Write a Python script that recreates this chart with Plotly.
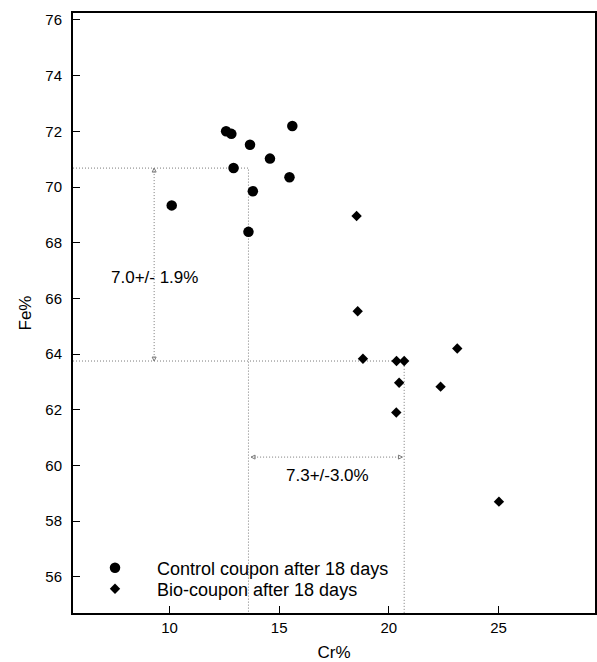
import plotly.graph_objects as go

# Control coupons (circles)
control_cr = [12.58, 12.82, 12.92, 13.67, 14.58, 15.60, 15.47, 13.80, 13.60, 10.10]
control_fe = [72.00, 71.91, 70.68, 71.52, 71.02, 72.19, 70.35, 69.85, 68.39, 69.34]

# Bio-coupons (diamonds)
bio_cr = [18.53, 18.58, 18.82, 20.35, 20.70, 20.47, 20.34, 22.36, 23.12, 25.02]
bio_fe = [68.96, 65.54, 63.83, 63.75, 63.75, 62.97, 61.90, 62.83, 64.20, 58.70]

# Mean reference values (control, bio)
mean_cr = [13.6, 20.7]
mean_fe = [70.68, 63.75]

# Difference-arrow positions
fe_arrow_cr = 9.3
cr_arrow_fe = 60.3
cr_arrow_span = [13.72, 20.62]

x_range = [5.6, 29.4]
y_range = [54.7, 76.25]

labels = ["Control coupon after 18 days", "Bio-coupon after 18 days"]
fe_diff_text = "7.0+/- 1.9%"
cr_diff_text = "7.3+/-3.0%"

FONT = "Liberation Sans, Arial, Helvetica, sans-serif"
GRAY = "#7a7a7a"
DOT = dict(color=GRAY, width=1, dash="1px,2px")

fig = go.Figure()

# dotted mean guide lines
fig.add_trace(go.Scatter(x=[x_range[0], mean_cr[0], mean_cr[0]],
                         y=[mean_fe[0], mean_fe[0], y_range[0]],
                         mode="lines", line=DOT, showlegend=False, hoverinfo="skip"))
fig.add_trace(go.Scatter(x=[x_range[0], mean_cr[1], mean_cr[1]],
                         y=[mean_fe[1], mean_fe[1], y_range[0]],
                         mode="lines", line=DOT, showlegend=False, hoverinfo="skip"))

# vertical double arrow (Fe difference)
fig.add_trace(go.Scatter(x=[fe_arrow_cr, fe_arrow_cr], y=[mean_fe[0], mean_fe[1]],
                         mode="lines+markers", line=DOT,
                         marker=dict(symbol=["arrow-up-open", "arrow-down-open"], size=4,
                                     color=GRAY, line=dict(color=GRAY, width=1)),
                         showlegend=False, hoverinfo="skip"))
# horizontal double arrow (Cr difference)
fig.add_trace(go.Scatter(x=cr_arrow_span, y=[cr_arrow_fe, cr_arrow_fe],
                         mode="lines+markers", line=DOT,
                         marker=dict(symbol=["arrow-left-open", "arrow-right-open"], size=4,
                                     color=GRAY, line=dict(color=GRAY, width=1)),
                         showlegend=False, hoverinfo="skip"))

fig.add_trace(go.Scatter(x=control_cr, y=control_fe, mode="markers", name=labels[0],
                         legend="legend",
                         marker=dict(symbol="circle", size=10.5, color="black")))
fig.add_trace(go.Scatter(x=bio_cr, y=bio_fe, mode="markers", name=labels[1],
                         legend="legend2",
                         marker=dict(symbol="diamond", size=8, color="black")))

fig.add_annotation(x=fe_arrow_cr, y=66.75, text=fe_diff_text, showarrow=False,
                   font=dict(size=17, color="black", family=FONT))
fig.add_annotation(x=17.2, y=59.64, text=cr_diff_text, showarrow=False,
                   font=dict(size=17, color="black", family=FONT))

axis_common = dict(showgrid=False, zeroline=False, showline=True, linecolor="black",
                   linewidth=2, mirror=True, ticks="inside", ticklen=7, tickwidth=1,
                   tickcolor="black", tickfont=dict(size=15, color="black", family=FONT))

fig.update_xaxes(range=x_range, dtick=5, tick0=0,
                 title=dict(text="Cr%", font=dict(size=17, color="black", family=FONT), standoff=11),
                 **axis_common)
fig.update_yaxes(range=y_range, dtick=2, tick0=0, ticklabelstandoff=6,
                 title=dict(text="Fe%", font=dict(size=17, color="black", family=FONT), standoff=9),
                 **axis_common)

leg_common = dict(xanchor="left", yanchor="bottom", bgcolor="rgba(0,0,0,0)",
                  font=dict(size=18, color="black", family=FONT), itemwidth=74)

fig.update_layout(
    width=597, height=662,
    margin=dict(l=73, r=2, t=13, b=49, autoexpand=False),
    paper_bgcolor="white", plot_bgcolor="white",
    font=dict(family=FONT, color="black"),
    showlegend=True,
    legend=dict(x=0.0, y=0.044, **leg_common),
    legend2=dict(x=0.0, y=0.009, **leg_common),
)

fig.write_html("out.html")
